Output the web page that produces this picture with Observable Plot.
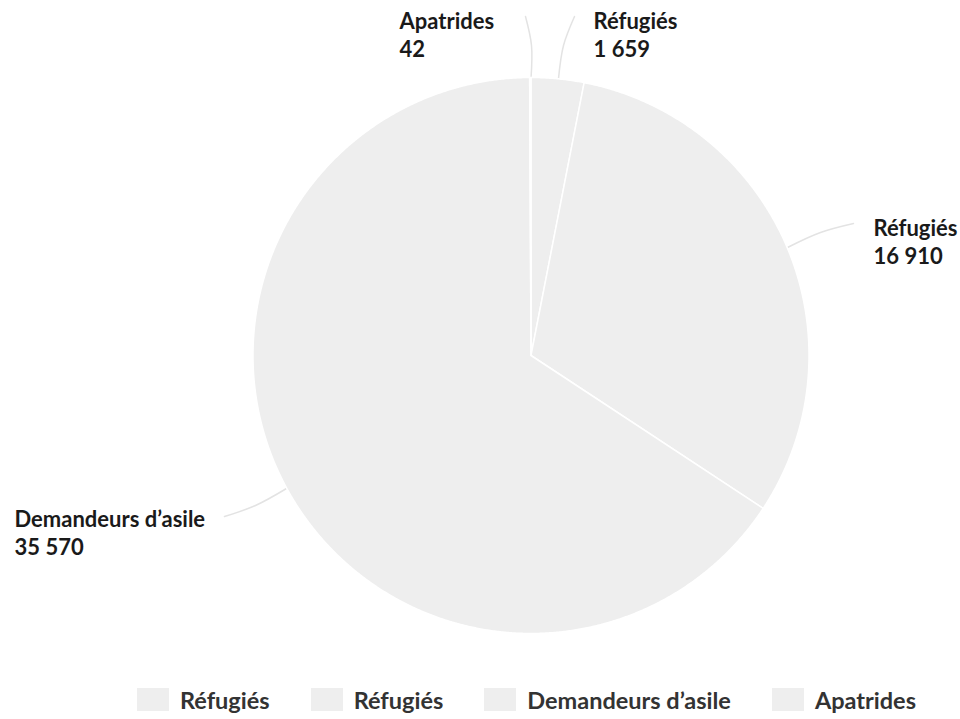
<!DOCTYPE html>
<html>
<head>
<meta charset="utf-8">
<script src="https://cdn.jsdelivr.net/npm/d3@7"></script>
<script src="https://cdn.jsdelivr.net/npm/@observablehq/plot@0.6"></script>
<style>
  html, body { margin: 0; padding: 0; background: #fff; }
  body { font-family: Lato, "Open Sans", sans-serif; width: 960px; height: 719px; overflow: hidden; }
  #legend { position: relative; width: 960px; height: 39px; display: flex; flex-wrap: nowrap; align-items: center; padding-left: 137px; box-sizing: border-box; overflow: visible; }
  .item { display: flex; align-items: center; margin-right: 41px; flex: 0 0 auto; white-space: nowrap; }
  .item:last-child { margin-right: 0; }
  .sw { width: 32px; height: 23px; background: #eeeeee; margin-right: 11px; flex: 0 0 auto; }
  .lab { font-size: 23.5px; font-weight: 700; color: #333333; line-height: 24px; white-space: nowrap; }
</style>
</head>
<body>
<div id="chart"></div>
<div id="legend"></div>
<script>
// ---- Data ----
const categories = ["Réfugiés", "Réfugiés", "Demandeurs d’asile", "Apatrides"];
const values = [1659, 16910, 35570, 42];

// ---- Layout (pixel anchors for labels & connectors) ----
const center = [530.5, 355];
const radius = 278;
const labelLayout = [
  { x: 593, y: 56, leader: [[558, 78], [563, 45], [574, 16]] },
  { x: 873, y: 263, leader: [[787, 247], [820, 232], [853, 223]] },
  { x: 14,  y: 554, leader: [[286, 488], [255, 505], [224, 516]] },
  { x: 399, y: 56, leader: [[530.5, 78], [531, 45], [525, 16]] }
];

const fr = d3.formatLocale({ decimal: ",", thousands: "\u202f", grouping: [3] }).format(",d");
const toX = px => (px - center[0]) / radius;
const toY = py => (center[1] - py) / radius;

const table = categories.map((c, i) => ({ key: i, category: c, value: values[i] }));
const arcs = d3.pie().sort(null).value(d => d.value)(table);

// slice polygons in data space (unit circle), angles clockwise from top
const slicePts = [];
for (const a of arcs) {
  const n = Math.max(2, Math.ceil((a.endAngle - a.startAngle) / 0.005));
  slicePts.push({ key: a.data.key, x: 0, y: 0 });
  for (let k = 0; k <= n; k++) {
    const t = a.startAngle + (a.endAngle - a.startAngle) * k / n;
    slicePts.push({ key: a.data.key, x: Math.sin(t), y: Math.cos(t) });
  }
  slicePts.push({ key: a.data.key, x: 0, y: 0 });
}

const leaderPts = [];
labelLayout.forEach((l, i) => l.leader.forEach(p => leaderPts.push({ key: i, x: toX(p[0]), y: toY(p[1]) })));

const labels = table.map((d, i) => ({
  text: `${d.category}\n${fr(d.value)}`,
  x: toX(labelLayout[i].x),
  y: toY(labelLayout[i].y)
}));

const chart = Plot.plot({
  width: 960,
  height: 680,
  margin: 0,
  style: { fontFamily: "Lato, 'Open Sans', sans-serif", background: "#fff" },
  x: { domain: [-1, 1], range: [center[0] - radius, center[0] + radius], axis: null },
  y: { domain: [-1, 1], range: [center[1] + radius, center[1] - radius], axis: null },
  marks: [
    Plot.line(leaderPts, { x: "x", y: "y", z: "key", stroke: "#e3e3e3", strokeWidth: 1.5, curve: "catmull-rom" }),
    Plot.line(slicePts, { x: "x", y: "y", z: "key", fill: "#eeeeee", stroke: "#ffffff", strokeWidth: 1.5, strokeLinejoin: "round" }),
    Plot.text(labels, { x: "x", y: "y", text: "text", textAnchor: "start", lineAnchor: "bottom", lineHeight: 1.23,
      fontSize: 22, fontWeight: 700, fill: "#1a1a1a" })
  ]
});
document.getElementById("chart").appendChild(chart);

const legend = document.getElementById("legend");
categories.forEach(c => {
  const item = document.createElement("div");
  item.className = "item";
  const sw = document.createElement("div"); sw.className = "sw";
  const lab = document.createElement("div"); lab.className = "lab"; lab.textContent = c;
  item.appendChild(sw); item.appendChild(lab);
  legend.appendChild(item);
});
</script>
</body>
</html>
